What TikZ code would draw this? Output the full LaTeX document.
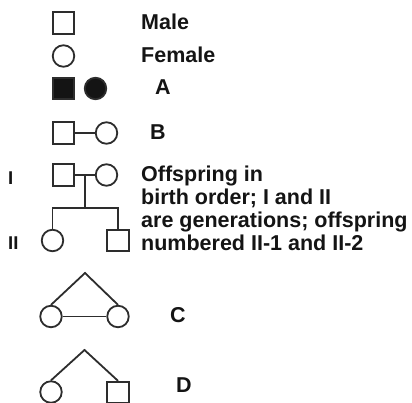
\documentclass[tikz,border=0pt]{standalone}
\usepackage{fontspec}
\setmainfont{Liberation Sans}
\usetikzlibrary{positioning}
\definecolor{pedblack}{RGB}{20,20,20}
\definecolor{pedline}{RGB}{45,45,45}

\begin{document}
\begin{tikzpicture}[x=1pt,y=-1pt,
  male/.style={draw=pedline, line width=1.8pt, minimum size=21.5pt, inner sep=0pt},
  female/.style={draw=pedline, line width=1.8pt, circle, minimum size=21.5pt, inner sep=0pt},
  lab/.style={font=\fontsize{21.5}{23.3}\selectfont\bfseries, text=pedblack, inner sep=0pt, anchor=base west},
  gen/.style={font=\fontsize{18.5}{20}\selectfont\bfseries, text=pedblack, inner sep=0pt, anchor=base west},
  link/.style={draw=pedline, line width=1.8pt}]
\useasboundingbox (0,0) rectangle (412,403);
% Male / Female
\node[male] (male) at (63.5,23) {};
\node[lab] (tmale) at (141,30) {Male};
\node[female] (fem) at (63.5,56) {};
\node[lab] (tfem) at (141,63) {Female};
% A: filled
\node[male, fill=pedblack] (am) at (63.5,88.5) {};
\node[female, fill=pedblack] (af) at (95.5,88.5) {};
\node[lab] (ta) at (155,95) {A};
% B: mating line
\node[male] (bm) at (63.5,133) {};
\node[female] (bf) at (106.5,133) {};
\draw[link] (bm) -- (bf);
\node[lab] (tb) at (150,140) {B};
% Generations I and II
\node[gen] (gi) at (8,185) {I};
\node[male] (im) at (63.5,175) {};
\node[female] (if) at (106.5,175) {};
\draw[link] (im) -- coordinate (mate) (if);
\coordinate (sib) at (85,208);
\node[female] (ii1) at (52.5,240.5) {};
\node[male] (ii2) at (118,240.5) {};
\node[gen] (gii) at (8,250) {II};
\draw[link] (mate) -- (sib);
\draw[link] (ii1.north) |- (sib) -| (ii2.north);
% base of a multi-line node is its last line
\node[lab, align=left] (toff) at (141,251) {Offspring in\\birth order; I and II\\are generations; offspring\\numbered II-1 and II-2};
% C: identical twins
\coordinate (capex) at (85,273);
\node[female] (c1) at (51,316.5) {};
\node[female] (c2) at (118,316.5) {};
\draw[link] (c1.north) -- (capex) -- (c2.north);
\draw[link] (c1) -- (c2);
\node[lab] (tc) at (170,322) {C};
% D: fraternal twins
\coordinate (dapex) at (84.5,350);
\node[female] (d1) at (51,392) {};
\node[male] (d2) at (118,392.5) {};
\draw[link] (d1.north) -- (dapex) -- (d2.north);
\node[lab] (td) at (176,392) {D};
\end{tikzpicture}
\end{document}
